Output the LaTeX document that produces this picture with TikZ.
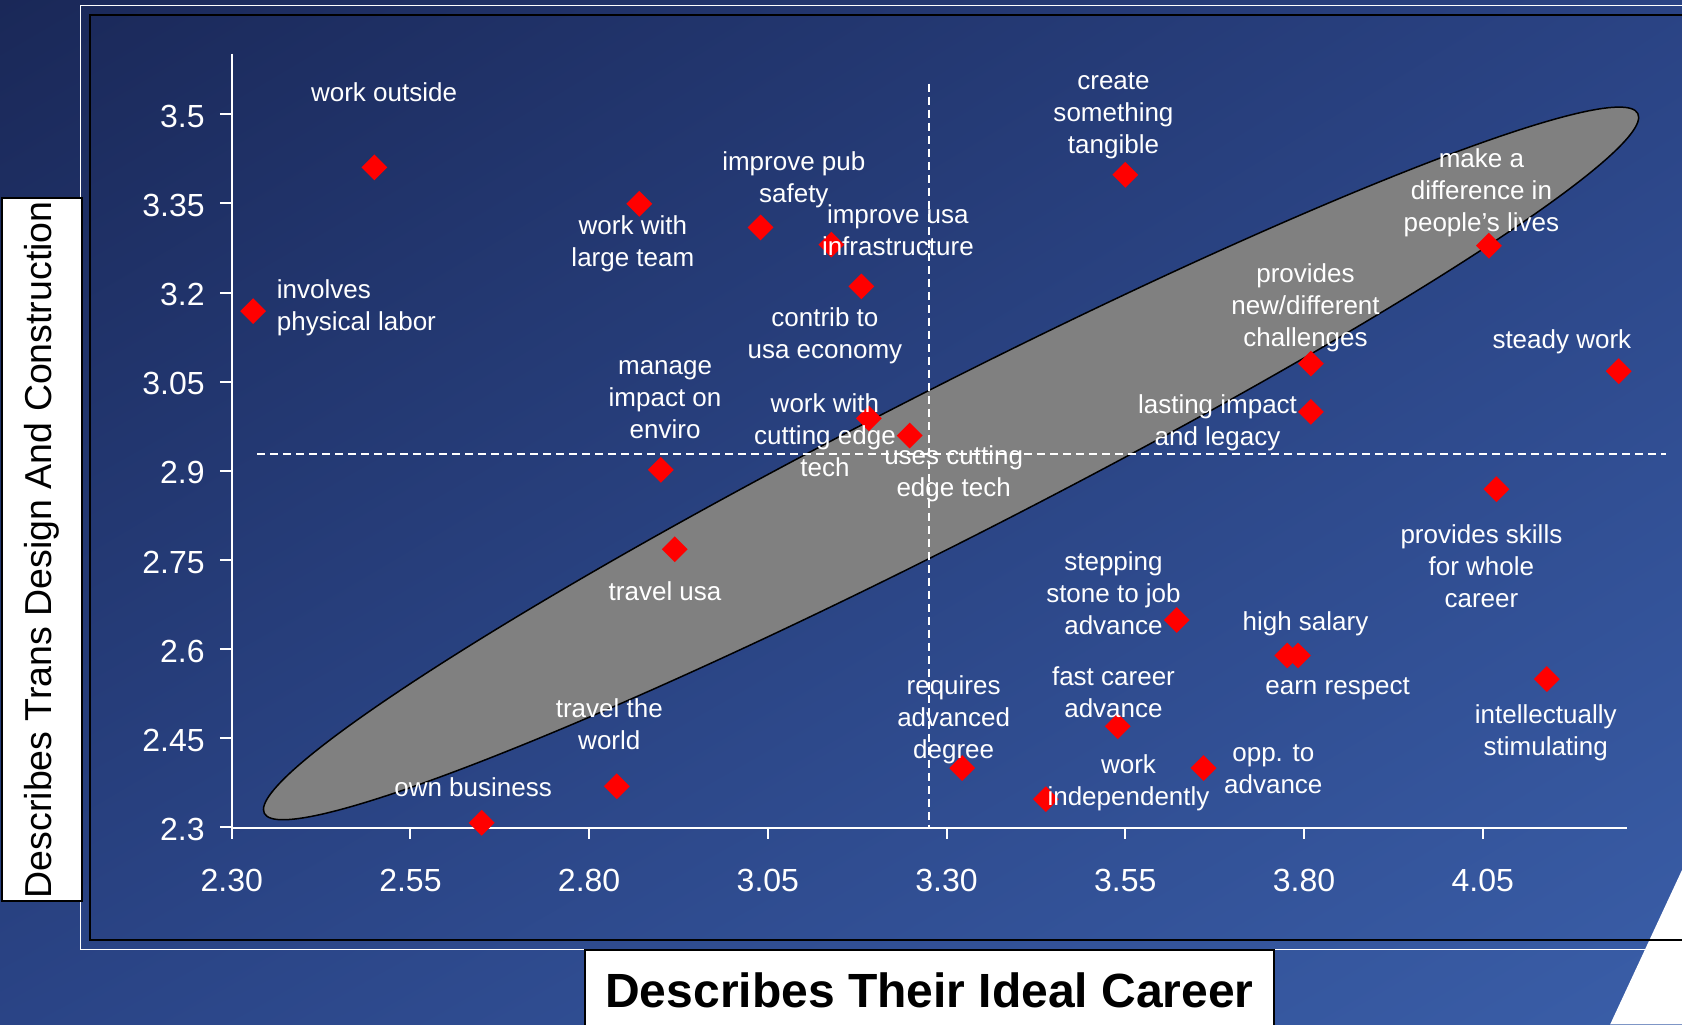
\documentclass[tikz,border=0pt]{standalone}
\usepackage{fontspec}
\setmainfont{Liberation Sans}
\usetikzlibrary{shapes.geometric,shadings}
\definecolor{bgTL}{HTML}{1A2858}
\definecolor{bgTR}{HTML}{2A4384}
\definecolor{bgBL}{HTML}{2A4486}
\definecolor{bgBR}{HTML}{3A5EA8}
\definecolor{ellgray}{HTML}{808080}
\newcommand{\lblfont}{\fontsize{26}{32}\selectfont}
\newcommand{\tickfont}{\fontsize{32}{36}\selectfont}
\begin{document}
\begin{tikzpicture}[x=1.0727pt,y=-1.0727pt,
  lbl/.style={text=white,font=\lblfont,align=center,inner sep=0pt,yshift=-2pt},
  ticklbl/.style={text=white,font=\tickfont,inner sep=0pt},
  dmd/.style={shape=diamond,fill=red,draw=none,inner sep=0pt,minimum width=26pt,minimum height=26pt},
  axisline/.style={white,line width=2pt},
  meanline/.style={white,line width=1.5pt,dash pattern=on 8pt off 5pt},
  titlebox/.style={draw=black,line width=2pt,fill=white,inner sep=0pt,text=black}]
\useasboundingbox (0,0) rectangle (1568,954.6);
% background
\shade[upper left=bgTL,upper right=bgTR,lower left=bgBL,lower right=bgBR] (0,0) rectangle (1568,954.6);
% frames
\draw[white,line width=1.6pt] (1568,5) -- (75,5) -- (75,885) -- (1534,885);
\fill[white] (1568,811) -- (1501,955) -- (1568,955) -- cycle;
\draw[black,line width=2pt] (1568,14) -- (84,14) -- (84,876) -- (1568,876);
% ellipse
\draw[fill=ellgray,draw=black,line width=1.5pt,rotate around={27:(886.6,432)}] (886.6,432) ellipse [x radius=718.5,y radius=70];
% mean lines
\coordinate (vtop) at (866,78);
\coordinate (vbot) at (866,771.5);
\coordinate (hleft) at (240,423);
\coordinate (hright) at (1553,423);
\draw[meanline] (vtop) -- (vbot);
\draw[meanline] (hleft) -- (hright);
% axes
\coordinate (ytop) at (216,50);
\coordinate (orig) at (216,771.5);
\coordinate (xend) at (1517,771.5);
\draw[axisline] (ytop) -- (orig) -- (xend);
\foreach \v [count=\i from 0] in {3.5,3.35,3.2,3.05,2.9,2.75,2.6,2.45,2.3}{
  \draw[axisline] (205,106.6+83.1*\i) -- (216,106.6+83.1*\i);
  \node[ticklbl,anchor=east] (yt\i) at (191,108.4+83.1*\i) {\v};
}
\foreach \v [count=\i from 0] in {2.30,2.55,2.80,3.05,3.30,3.55,3.80,4.05}{
  \draw[axisline] (216+166.6*\i,771.5) -- (216+166.6*\i,782);
  \node[ticklbl] (xt\i) at (216+166.6*\i,821) {\v};
}
% data points
\node[dmd] (d-wo) at (349,156) {};
\node[dmd] (d-ipl) at (236,290) {};
\node[dmd] (d-wlt) at (596,190) {};
\node[dmd] (d-ips) at (709,212) {};
\node[dmd] (d-iui) at (775,228) {};
\node[dmd] (d-cue) at (803,267) {};
\node[dmd] (d-cst) at (1049,163) {};
\node[dmd] (d-mad) at (1388,229) {};
\node[dmd] (d-pnd) at (1222,339) {};
\node[dmd] (d-sw) at (1509,346) {};
\node[dmd] (d-lil) at (1222,384) {};
\node[dmd] (d-wce) at (810,390) {};
\node[dmd] (d-uce) at (848,406) {};
\node[dmd] (d-mie) at (616,438) {};
\node[dmd] (d-psw) at (1395,456) {};
\node[dmd] (d-tu) at (629,512) {};
\node[dmd] (d-sst) at (1097,578) {};
\node[dmd] (d-hs) at (1200,611) {};
\node[dmd] (d-er) at (1210,611) {};
\node[dmd] (d-is) at (1442,633) {};
\node[dmd] (d-fca) at (1042,677) {};
\node[dmd] (d-rad) at (897,716) {};
\node[dmd] (d-ota) at (1122,716) {};
\node[dmd] (d-wi) at (975,745) {};
\node[dmd] (d-ttw) at (575,733) {};
\node[dmd] (d-ob) at (449,767) {};
% labels
\node[lbl] (l-wo) at (358,84) {work outside};
\node[lbl,anchor=west,align=left] (l-ipl) at (258,285) {involves\\physical labor};
\node[lbl] (l-ips) at (740,165.5) {improve pub\\safety};
\node[lbl] (l-wlt) at (590,225) {work with\\large team};
\node[lbl] (l-iui) at (837,213) {improve usa\\infrastructure};
\node[lbl] (l-cue) at (769,311) {contrib to\\usa economy};
\node[lbl] (l-cst) at (1038,106) {create\\something\\tangible};
\node[lbl] (l-mad) at (1381,178) {make a\\difference in\\people’s lives};
\node[lbl] (l-pnd) at (1217,285) {provides\\new/different\\challenges};
\node[lbl] (l-sw) at (1456,317) {steady work};
\node[lbl] (l-lil) at (1135,392) {lasting impact\\and legacy};
\node[lbl] (l-mie) at (620,371) {manage\\impact on\\enviro};
\node[lbl] (l-wce) at (769,404) {work with\\cutting edge\\tech};
\node[lbl] (l-uce) at (889,440) {uses cutting\\edge tech};
\node[lbl] (l-psw) at (1381,526) {provides skills\\for whole\\career};
\node[lbl] (l-tu) at (620,549) {travel usa};
\node[lbl] (l-sst) at (1038,551) {stepping\\stone to job\\advance};
\node[lbl] (l-hs) at (1217,580) {high salary};
\node[lbl] (l-er) at (1247,640) {earn respect};
\node[lbl] (l-fca) at (1038,643) {fast career\\advance};
\node[lbl] (l-rad) at (889,669) {requires\\advanced\\degree};
\node[lbl] (l-is) at (1441,681) {intellectually\\stimulating};
\node[lbl] (l-ttw) at (568,673) {travel the\\world};
\node[lbl] (l-wi) at (1052,728) {work\\independently};
\node[lbl] (l-ota) at (1187,715) {opp. to\\advance};
\node[lbl] (l-ob) at (441,732) {own business};
% axis titles
\node[titlebox,rotate=90,minimum width=702.6pt,minimum height=79.4pt,font=\fontsize{37.5}{40}\selectfont] (ytitle) at (39,512.5) {Describes Trans Design And Construction};
\node[titlebox,minimum width=689.7pt,minimum height=79.4pt,font=\fontsize{48}{52}\selectfont\bfseries] (xtitle) at (866.5,923) {Describes Their Ideal Career};
\end{tikzpicture}
\end{document}
